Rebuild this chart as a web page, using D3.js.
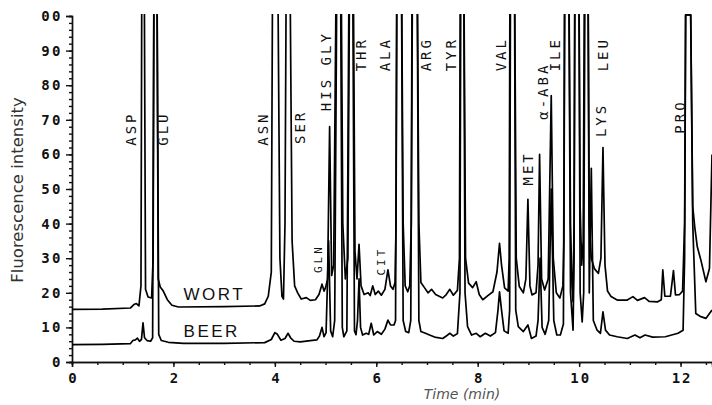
<!DOCTYPE html>
<html>
<head>
<meta charset="utf-8">
<script src="https://cdn.jsdelivr.net/npm/d3@7"></script>
<style>
  body { margin:0; background:#fff; }
  .axis path, .axis line { stroke:#111; stroke-width:1.4; fill:none; }
  .tick-font { font-family:"DejaVu Sans Mono", monospace; font-weight:bold; font-size:14px; fill:#111; }
  .peak-font { font-family:"DejaVu Sans Mono", monospace; font-size:14px; fill:#111; letter-spacing:3px; }
</style>
</head>
<body>
<svg id="viz-svg" width="712" height="405"></svg>
<script>
// time (min), fluorescence intensity
var wort = [
  [0,15.2],[0.6,15.3],[1.15,15.6],[1.22,16.6],[1.27,16.9],[1.32,16.2],
  [1.36,22],[1.38,130],[1.42,130],[1.45,21],[1.5,18.8],[1.57,18.5],
  [1.6,30],[1.62,130],[1.67,130],[1.7,24],[1.74,21.7],[1.8,20.5],[1.88,18],[1.97,16.4],[2.1,15.9],
  [3.0,16],[3.7,16.2],[3.8,16.8],[3.87,19],[3.93,26],[3.96,130],[4.05,130],[4.1,30],[4.14,19],
  [4.17,18.2],[4.2,40],[4.23,130],[4.29,130],[4.34,35],[4.39,22],[4.45,20],[4.52,18.2],[4.62,18.6],
  [4.7,17.8],[4.8,18],[4.87,19.5],[4.93,22.5],[4.97,20.5],
  [5.0,21.5],[5.04,24],[5.08,68],[5.12,25],[5.16,28],[5.22,130],[5.3,130],[5.34,40],[5.39,24],
  [5.44,30],[5.48,130],[5.54,130],[5.58,32],[5.62,24],[5.66,34],[5.7,22],[5.76,19.5],[5.84,20],
  [5.88,19.2],[5.93,22],[5.98,19.5],[6.04,20.5],[6.1,19.3],[6.17,21],[6.23,26.6],[6.28,22],[6.33,21],
  [6.37,23],[6.39,40],[6.41,130],[6.49,130],[6.53,40],[6.57,22],[6.62,20.3],[6.66,22],
  [6.69,40],[6.71,130],[6.8,130],[6.84,40],[6.88,23],[6.95,21.5],[7.02,20],[7.09,21],[7.17,19.5],
  [7.31,18.5],[7.38,19.5],[7.45,21],[7.52,19.3],[7.6,20.7],
  [7.64,30],[7.66,130],[7.72,130],[7.76,30],[7.82,22.8],[7.9,21.5],[7.97,23.2],[8.03,19.5],[8.1,18],
  [8.2,19.2],[8.3,20.3],[8.38,26],[8.43,34.3],[8.47,28],[8.53,21.4],[8.6,20.5],
  [8.62,30],[8.64,130],[8.72,130],[8.76,30],[8.82,21.8],[8.9,20],[8.95,24],[8.99,47],[9.03,22],
  [9.07,19.4],[9.15,20],[9.19,28],[9.22,60],[9.26,24],[9.32,20.8],[9.39,24],[9.45,77],[9.49,30],
  [9.55,20],[9.62,18.5],[9.68,22],
  [9.7,35],[9.72,130],[9.79,130],[9.83,40],[9.86,22],[9.88,17.4],[9.9,40],[9.92,130],[9.99,130],
  [10.02,45],[10.05,28],[10.08,35],[10.11,130],[10.17,130],[10.2,40],[10.24,30],[10.3,27],
  [10.38,25.6],[10.43,30],[10.47,62],[10.51,28],[10.56,20.5],[10.63,18.9],[10.75,17.9],[10.95,17.9],
  [11.06,18.9],[11.15,17.8],[11.29,18.6],[11.38,17.5],[11.55,17.4],[11.62,18],[11.65,26.6],[11.69,19],
  [11.8,19],[11.86,26.4],[11.9,19.4],[11.98,19.5],[12.04,20.5],[12.08,40],[12.1,100.3],[12.2,100.3],
  [12.24,45],[12.28,39],[12.33,33.3],[12.4,29.5],[12.5,23.2],[12.57,27],[12.62,60]
]
var beer = [
  [0,5],[0.6,5.1],[1.15,5.3],[1.2,6.2],[1.25,6.4],[1.29,6.9],[1.33,6],[1.37,6.5],[1.4,11.3],
  [1.43,7],[1.48,6.2],[1.55,6],[1.59,7],[1.62,130],[1.67,130],[1.71,8],[1.76,6.2],[1.9,5.7],
  [2.2,5.4],[3.0,5.4],[3.8,5.6],[3.93,6.5],[4.0,8.5],[4.05,8],[4.12,6.3],[4.2,6.8],[4.26,8.3],
  [4.31,7],[4.38,6],[4.5,5.8],[4.7,6.2],[4.83,6.4],[4.88,7.5],[4.93,10],[4.97,7.3],
  [5.01,8.5],[5.06,35],[5.1,9],[5.14,7.3],[5.18,12],[5.23,130],[5.29,130],[5.33,10],[5.36,7.3],
  [5.42,9],[5.47,130],[5.53,130],[5.57,9],[5.6,7.9],[5.63,12],[5.66,24],[5.69,10],[5.73,7.8],
  [5.8,8.3],[5.85,8],[5.9,11.2],[5.95,7.8],[6.02,8.8],[6.1,8],[6.17,9.5],[6.23,12.1],[6.28,10.7],
  [6.35,10.7],[6.38,12],[6.41,130],[6.49,130],[6.53,12],[6.58,8.8],[6.64,8.5],[6.68,12],
  [6.72,130],[6.8,130],[6.84,12],[6.88,8.8],[6.97,8.3],[7.05,7.8],[7.15,7.2],[7.31,6.8],[7.38,7.5],
  [7.45,8.3],[7.52,7.5],[7.6,8.2],[7.65,20],[7.67,130],[7.72,130],[7.75,20],[7.8,10.2],[7.88,7.8],
  [7.97,8.3],[8.05,7.3],[8.15,8.3],[8.25,7.5],[8.35,8.5],[8.4,15],[8.43,20.3],[8.47,15],[8.52,9],
  [8.6,8.3],[8.63,15],[8.65,130],[8.72,130],[8.75,15],[8.8,10.2],[8.9,8.8],[8.99,10.7],[9.06,6.8],
  [9.15,7.5],[9.19,12],[9.23,30],[9.27,10],[9.33,8],[9.4,12],[9.45,50],[9.5,12],[9.56,7.8],
  [9.63,7.8],[9.69,11],[9.72,130],[9.79,130],[9.83,20],[9.88,9.2],[9.9,30],[9.92,130],[9.99,130],
  [10.02,20],[10.06,11.6],[10.09,20],[10.12,130],[10.17,130],[10.2,20],[10.24,56],[10.28,12],
  [10.35,9.3],[10.42,8.3],[10.47,14.5],[10.52,9.2],[10.6,7.8],[10.75,7.3],[10.95,6.8],[11.1,7.8],
  [11.2,7],[11.3,7.8],[11.45,7.2],[11.7,7.3],[11.95,8.3],[12.05,9.2],[12.08,30],[12.1,100.3],
  [12.2,100.3],[12.24,40],[12.3,14],[12.4,13.1],[12.5,12.6],[12.57,14],[12.62,15]
]
// peak labels: name, time where it sits, value where the upward text starts, small font or not
var peakNames  = ["ASP","GLU","ASN","SER","HIS GLY","THR","ALA","ARG","TYR","VAL","MET","α-ABA","ILE","LEU","LYS","PRO","GLN","CIT"]
  , peakTimes  = [1.17,1.80,3.77,4.50,5.02,5.71,6.18,6.99,7.48,8.47,8.99,9.29,9.52,10.47,10.44,12.0,4.86,6.1]
  , peakStarts = [62.5,62.5,62.5,63,72.5,84,84,84,84,84,51,70,84,84,65,66,25.7,25]
  , peakSmall  = [0,0,0,0,0,0,0,0,0,0,0,0,0,0,0,0,1,1]
var seriesNames = ["WORT","BEER"]
  , seriesLabelAt = [[2.2,17.9],[2.2,7.2]]
var yTicks = [0,10,20,30,40,50,60,70,80,90,100]
  , yTickLabels = ["0","10","20","30","40","50","60","70","80","90","00"]
  , xTicks = [0,2,4,6,8,10,12]
  , xTickLabels = ["0","2","4","6","8","10","12"]

var svg = d3.select("#viz-svg")
  , x = d3.scaleLinear().domain([0,12.62]).range([72,712])
  , y = d3.scaleLinear().domain([0,100]).range([362,16])

svg.append("defs").append("clipPath").attr("id","plot-clip")
  .append("rect")
    .attr("x",x(0)).attr("y",y(100.6))
    .attr("width",x(12.62)-x(0)).attr("height",y(0)-y(100.6))

// axes
var yMinor = d3.axisLeft(y).tickValues(d3.range(0,101,2)).tickSize(3).tickFormat("")
var yMajor = d3.axisLeft(y).tickValues(yTicks).tickSize(6).tickPadding(3)
  .tickFormat(function(d,i){ return yTickLabels[i] })
svg.append("g").attr("class","axis").attr("transform","translate("+x(0)+",0)").call(yMinor)
svg.append("g").attr("class","axis").attr("transform","translate("+x(0)+",0)").call(yMajor)
  .selectAll("text").attr("class","tick-font").style("letter-spacing","2.5px")

var xMinor = d3.axisBottom(x).tickValues(d3.range(0,12.6,0.5)).tickSize(3).tickFormat("")
var xMajor = d3.axisBottom(x).tickValues(xTicks).tickSize(5).tickPadding(6)
  .tickFormat(function(d,i){ return xTickLabels[i] })
svg.append("g").attr("class","axis").attr("transform","translate(0,"+y(0)+")").call(xMinor)
svg.append("g").attr("class","axis").attr("transform","translate(0,"+y(0)+")").call(xMajor)
  .selectAll("text").attr("class","tick-font").style("letter-spacing","2px").attr("dx","1px")

// traces
var line = d3.line().x(function(d){ return x(d[0]) }).y(function(d){ return y(d[1]) })
svg.append("g").attr("clip-path","url(#plot-clip)")
  .selectAll("path.trace")
    .data([wort,beer])
  .enter().append("path")
    .attr("class","trace")
    .attr("d",line)
    .style("fill","none")
    .style("stroke","#000")
    .style("stroke-width",1.7)
    .style("stroke-linejoin","round")

// peak names, rotated, reading upward
svg.append("g").selectAll("text")
    .data(peakNames)
  .enter().append("text")
    .attr("class","peak-font")
    .attr("transform",function(d,i){ return "translate("+x(peakTimes[i])+","+y(peakStarts[i])+") rotate(-90)" })
    .attr("dy","0.35em")
    .style("font-size",function(d,i){ return peakSmall[i] ? "11px" : "14px" })
    .text(function(d){ return d })

// series names
svg.append("g").selectAll("text")
    .data(seriesNames)
  .enter().append("text")
    .attr("x",function(d,i){ return x(seriesLabelAt[i][0]) })
    .attr("y",function(d,i){ return y(seriesLabelAt[i][1]) })
    .style("font-family","'Liberation Sans', Arial, sans-serif")
    .style("font-size","17px")
    .style("letter-spacing","2.5px")
    .style("fill","#111")
    .text(function(d){ return d })

// axis titles
svg.append("text")
  .attr("transform","translate(23,190) rotate(-90)")
  .style("text-anchor","middle")
  .style("font-family","'DejaVu Sans', sans-serif")
  .style("font-size","16.5px")
  .style("fill","#333")
  .text("Fluorescence intensity")
svg.append("text")
  .attr("x",462).attr("y",399)
  .style("text-anchor","middle")
  .style("font-family","'DejaVu Sans', sans-serif")
  .style("font-style","italic")
  .style("font-size","14px")
  .style("fill","#555")
  .text("Time (min)")
</script>
</body>
</html>
